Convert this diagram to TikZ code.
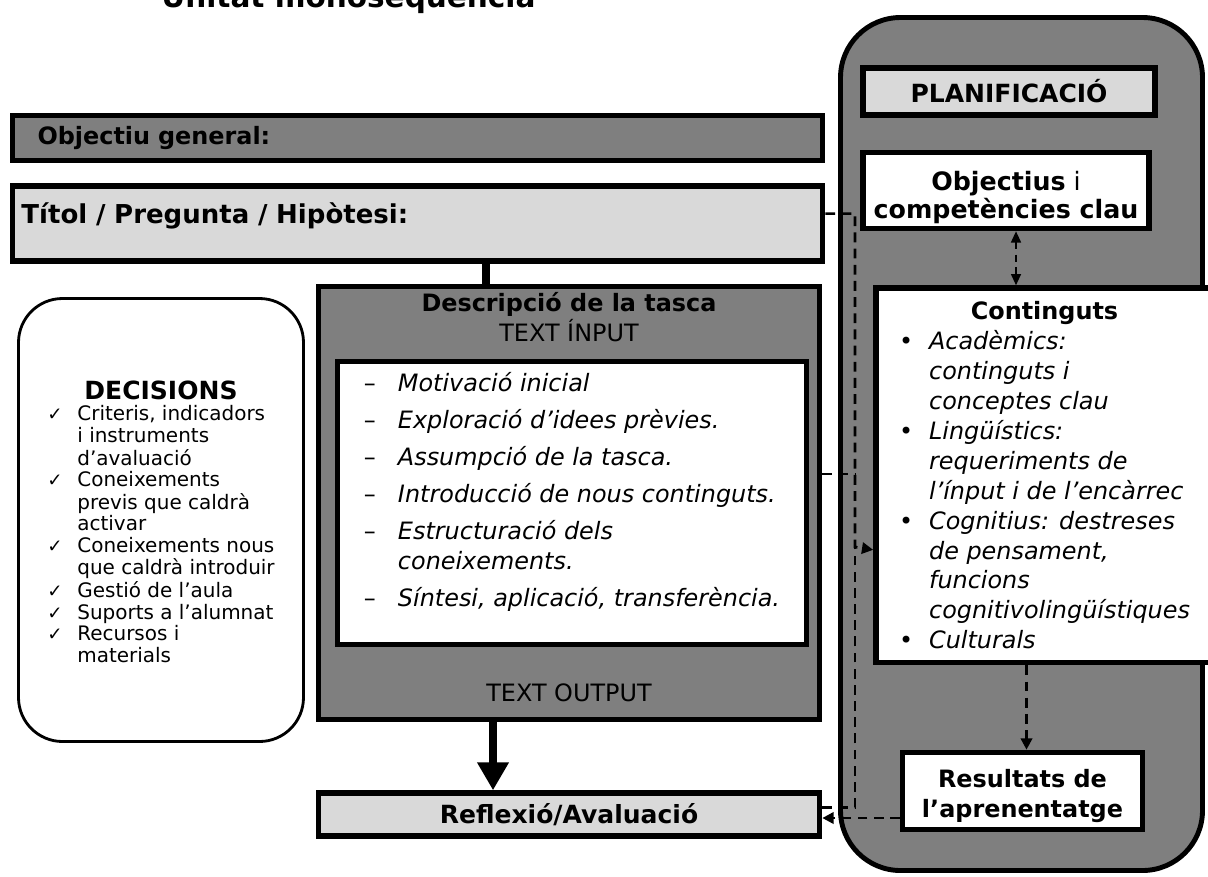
\documentclass[tikz,border=0pt]{standalone}
\usepackage{fontspec}
\setmainfont{DejaVu Sans}
\usepackage{tikz}
\usetikzlibrary{arrows.meta, positioning}
\definecolor{darkfill}{HTML}{7F7F7F}
\definecolor{lightfill}{HTML}{D9D9D9}
\tikzstyle{darkbox}   = [rectangle, draw=black, line width=4pt, fill=darkfill]
\tikzstyle{lightbox}  = [rectangle, draw=black, line width=4pt, fill=lightfill]
\tikzstyle{whitebox}  = [rectangle, draw=black, line width=4pt, fill=white]
\tikzstyle{link}      = [line width=1.9pt, dash pattern=on 7pt off 4.5pt]
\tikzstyle{linkarrow} = [link, -{Triangle[length=8pt, width=8pt]}]
\tikzstyle{linkboth}  = [line width=1.4pt, dash pattern=on 5pt off 4pt,
                         {Triangle[length=8pt, width=7pt]}-{Triangle[length=8pt, width=7pt]}]
\tikzstyle{bigarrow}  = [line width=5pt, -{Triangle[length=0.7cm, width=0.75cm]}]

\begin{document}
\begin{tikzpicture}[font=\fontsize{17}{21.3}\selectfont]
  \useasboundingbox (0,0) rectangle (30.2,-21.9);

  %% Title
  \node[anchor=base west, inner sep=0, font=\fontsize{21}{25}\selectfont\bfseries]
        (title) at (4.025,-0.175) {Unitat monoseqüència};

  %% Objective and title
  \node[darkbox, minimum width=20.25cm, minimum height=1.125cm, text width=19cm,
        inner xsep=0.625cm, align=left] (goal) at (10.4375,-3.45)
        {\textbf{Objectiu general:}};
  \node[lightbox, below=0.5cm of goal, minimum width=20.25cm, minimum height=1.875cm,
        text width=19.8cm, inner xsep=0.225cm, align=left, text height=0.4cm,
        text depth=0.4cm, font=\fontsize{18.5}{22}\selectfont\bfseries] (titol)
        {Títol / Pregunta / Hipòtesi:};

  %% Task
  \node[darkbox, minimum width=12.525cm, minimum height=10.825cm] (task)
        at (14.225,-12.575) {};
  \node[below=0.2cm of task.north, inner sep=0, align=center] (taskhead)
        {\textbf{Descripció de la tasca}\\TEXT ÍNPUT};
  \node[whitebox, minimum width=11.725cm, minimum height=7.075cm] (steps)
        at ([xshift=0.075cm]task.center)
        {\begin{tabular}{@{}p{0.85cm}@{}l@{}}
          – & \textit{Motivació inicial}\\[5pt]
          – & \textit{Exploració d’idees prèvies.}\\[5pt]
          – & \textit{Assumpció de la tasca.}\\[5pt]
          – & \textit{Introducció de nous continguts.}\\[5pt]
          – & \textit{Estructuració dels}\\
            & \textit{coneixements.}\\[5pt]
          – & \textit{Síntesi, aplicació, transferència.}\\[0.5cm]
         \end{tabular}};
  \node[above=0.5cm of task.south, inner sep=0] (textout) {TEXT OUTPUT};
  \node[lightbox, below=1.7cm of task, minimum width=12.525cm, minimum height=1.075cm,
        font=\fontsize{17.8}{21}\selectfont\bfseries] (reflexio) {Reflexió/Avaluació};

  %% Decisions
  \node[rectangle, rounded corners=1.1cm, draw=black, line width=2pt, fill=white,
        minimum width=7.125cm, minimum height=11.075cm,
        font=\fontsize{14.2}{15.4}\selectfont] (decisions) at (4.025,-13.0)
        {\begin{tabular}{@{}p{0.75cm}@{}l@{}}
          \multicolumn{2}{c}{\rule{0pt}{20pt}\fontsize{17.8}{20}\selectfont\bfseries DECISIONS}\\
          {\fontsize{13}{13}\selectfont ✓} & Criteris, indicadors\\
            & i instruments\\
            & d’avaluació\\
          {\fontsize{13}{13}\selectfont ✓} & Coneixements\\
            & previs que caldrà\\
            & activar\\
          {\fontsize{13}{13}\selectfont ✓} & Coneixements nous\\
            & que caldrà introduir\\
          {\fontsize{13}{13}\selectfont ✓} & Gestió de l’aula\\
          {\fontsize{13}{13}\selectfont ✓} & Suports a l’alumnat\\
          {\fontsize{13}{13}\selectfont ✓} & Recursos i\\
            & materials
         \end{tabular}};

  %% Planning
  \node[darkbox, line width=3.5pt, rounded corners=1.5cm, minimum width=9.05cm,
        minimum height=21.325cm] (plan) at (25.5375,-11.1) {};
  \node[lightbox, minimum width=7.3cm, minimum height=1.175cm,
        font=\fontsize{17.8}{21}\selectfont\bfseries] (planhead) at (25.225,-2.2875)
        {PLANIFICACIÓ};
  \node[whitebox, below=0.8cm of planhead.south west, anchor=north west,
        minimum width=7.15cm, minimum height=1.85cm, align=center, text height=1.53cm,
        font=\fontsize{18}{20}\selectfont] (objectius)
        {\textbf{Objectius} i\\\textbf{competències clau}};
  \node[whitebox, below right=1.35cm and 0.325cm of objectius.south west,
        minimum width=8.425cm, minimum height=9.275cm] (continguts)
        {\begin{tabular}{@{}p{0.75cm}@{}l@{}}
          \multicolumn{2}{c}{\rule{0pt}{19pt}\textbf{Continguts}}\\
          • & \textit{Acadèmics:}\\
            & \textit{continguts i}\\
            & \textit{conceptes clau}\\
          • & \textit{Lingüístics:}\\
            & \textit{requeriments de}\\
            & \textit{l’ínput i de l’encàrrec}\\
          • & \textit{Cognitius: destreses}\\
            & \textit{de pensament,}\\
            & \textit{funcions}\\
            & \textit{cognitivolingüístiques}\\
          • & \textit{Culturals}
         \end{tabular}};
  \node[whitebox, minimum width=6cm, minimum height=1.925cm, align=center, text height=1.45cm,
        font=\fontsize{17}{21.3}\selectfont\bfseries] (resultats) at (25.5625,-19.775)
        {Resultats de\\l’aprenentatge};

  %% Connectors
  \coordinate (bus) at (21.375,-13.675);
  \draw[line width=5pt] ([xshift=-2.075cm]task.north) -- ([xshift=-2.075cm]task.north |- titol.south);
  \draw[bigarrow] ([xshift=-1.9cm]task.south) -- ([xshift=-1.9cm]reflexio.north);
  \draw[linkarrow] ([yshift=0.25cm]titol.east) -| (bus) -- ([yshift=-1.8625cm]continguts.west);
  \draw[link] ([yshift=0.725cm]task.east) -- ([yshift=0.725cm]task.east -| bus);
  \draw[link] ([yshift=0.175cm]reflexio.east) -| (bus);
  \draw[linkboth] ([xshift=0.25cm]objectius.south) -- ([xshift=0.25cm]objectius.south |- continguts.north);
  \draw[linkarrow] ([xshift=0.1cm]resultats.north |- continguts.south) -- ([xshift=0.1cm]resultats.north);
  \draw[linkarrow] ([yshift=-0.675cm]resultats.west) -- ([yshift=-0.675cm]resultats.west -| reflexio.east);

\end{tikzpicture}
\end{document}
